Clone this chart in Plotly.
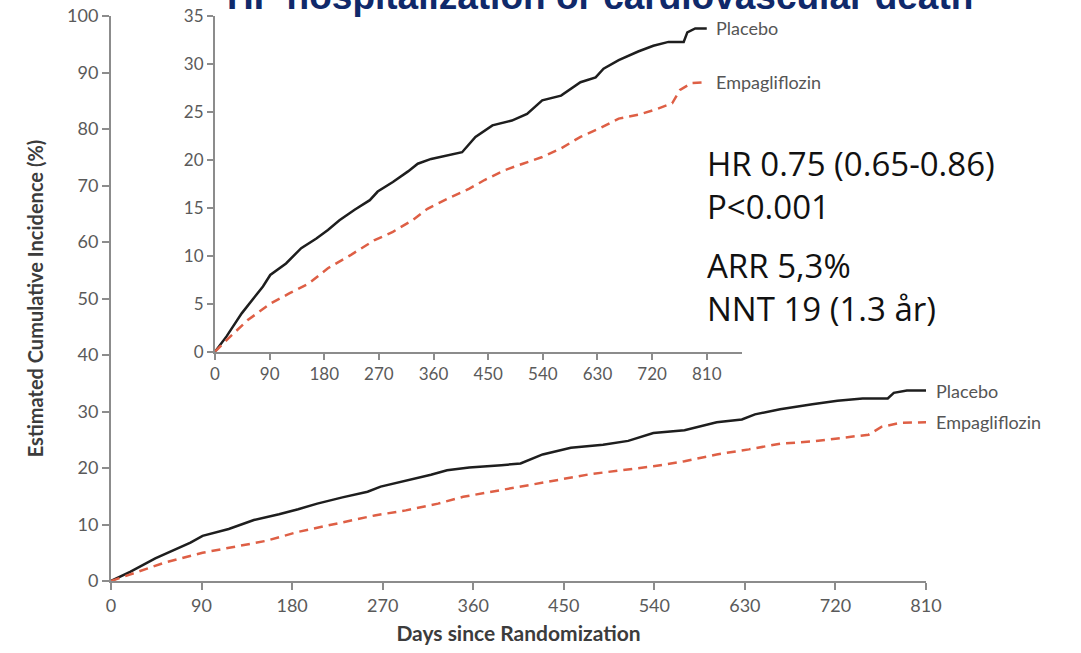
import plotly.graph_objects as go

# ---------------- data ----------------
placebo_days = [0, 19, 44, 66, 79, 91, 117, 142, 167, 186, 205, 230, 255, 268, 293, 318, 334,
                356, 388, 407, 429, 457, 489, 514, 539, 570, 602, 627, 640, 665, 697, 722,
                747, 772, 778, 791, 810]
placebo_pct = [0, 1.6, 4.0, 5.7, 6.8, 8.0, 9.2, 10.8, 11.8, 12.7, 13.7, 14.8, 15.8, 16.7, 17.7,
               18.8, 19.6, 20.1, 20.5, 20.8, 22.4, 23.6, 24.1, 24.8, 26.2, 26.7, 28.1, 28.6,
               29.5, 30.4, 31.3, 31.9, 32.3, 32.3, 33.3, 33.7, 33.7]

empa_days = [0, 22, 54, 91, 123, 154, 186, 224, 262, 293, 325, 350, 388, 419, 444, 476, 507,
             539, 570, 602, 634, 665, 697, 728, 753, 766, 785, 810]
empa_pct = [0, 1.4, 3.3, 5.0, 6.1, 7.1, 8.7, 10.1, 11.6, 12.5, 13.7, 14.9, 16.1, 17.0, 17.9,
            18.9, 19.6, 20.3, 21.2, 22.4, 23.3, 24.3, 24.7, 25.3, 25.9, 27.3, 28.0, 28.1]

series_names = ["Placebo", "Empagliflozin"]
day_ticks = [0, 90, 180, 270, 360, 450, 540, 630, 720, 810]
main_y_ticks = [0, 10, 20, 30, 40, 50, 60, 70, 80, 90, 100]
inset_y_ticks = [0, 5, 10, 15, 20, 25, 30, 35]

title_text = "HF hospitalization or cardiovascular death"
x_title = "Days since Randomization"
y_title = "Estimated Cumulative Incidence (%)"
stats_blocks = [["HR 0.75 (0.65-0.86)", "P<0.001"], ["ARR 5,3%", "NNT 19 (1.3 år)"]]

# ---------------- styles ----------------
PLACEBO_COLOR = "#1e1e1e"
EMPA_COLOR = "#de5f45"
AXIS_COLOR = "#8c8c8c"
TICK_FONT_COLOR = "#5a5a5a"
LABEL_FONT = "Lato, Open Sans, sans-serif"

fig = go.Figure()

for xa, ya in (("x", "y"), ("x2", "y2")):
    fig.add_trace(go.Scatter(x=placebo_days, y=placebo_pct, mode="lines", xaxis=xa, yaxis=ya,
                             line=dict(color=PLACEBO_COLOR, width=2.5), name=series_names[0],
                             showlegend=False, hoverinfo="skip"))
    fig.add_trace(go.Scatter(x=empa_days, y=empa_pct, mode="lines", xaxis=xa, yaxis=ya,
                             line=dict(color=EMPA_COLOR, width=2.5, dash="9px,6px"),
                             name=series_names[1], showlegend=False, hoverinfo="skip"))

axis_common = dict(showgrid=False, zeroline=False, showline=True, linecolor=AXIS_COLOR,
                   linewidth=2, ticks="outside", tickcolor=AXIS_COLOR, tickwidth=2,
                   fixedrange=True, automargin=False)

fig.update_layout(
    template="none",
    width=1081, height=653,
    margin=dict(l=111, r=155, t=16, b=72, autoexpand=False),
    paper_bgcolor="white", plot_bgcolor="white",
    showlegend=False,
    xaxis=dict(**axis_common, range=[0, 810], tickvals=day_ticks, ticklen=7,
               tickfont=dict(family=LABEL_FONT, size=18, color=TICK_FONT_COLOR),
               title=dict(text="<b>" + x_title + "</b>", standoff=12,
                          font=dict(family=LABEL_FONT, size=21, color="#3c3c3c"))),
    yaxis=dict(**axis_common, range=[0, 100], tickvals=main_y_ticks, ticklen=7,
               tickfont=dict(family=LABEL_FONT, size=18, color=TICK_FONT_COLOR),
               title=dict(text="<b>" + y_title + "</b>", standoff=18,
                          font=dict(family=LABEL_FONT, size=20, color="#3c3c3c"))),
    xaxis2=dict(**axis_common, domain=[0.1276, 0.7739], range=[0, 867.6], tickvals=day_ticks,
                ticklen=6, anchor="y2",
                tickfont=dict(family=LABEL_FONT, size=17, color=TICK_FONT_COLOR)),
    yaxis2=dict(**axis_common, domain=[0.4058, 1.0], range=[0, 35], tickvals=inset_y_ticks,
                ticklen=6, anchor="x2",
                tickfont=dict(family=LABEL_FONT, size=17, color=TICK_FONT_COLOR)),
)

annotations = []
# series labels at line ends (inset + main)
for xr, yr, shift in (("x2", "y2", 7), ("x", "y", 8)):
    annotations.append(dict(x=810, y=placebo_pct[-1], xref=xr, yref=yr, text=series_names[0],
                            showarrow=False, xanchor="left", yanchor="middle", xshift=shift,
                            font=dict(family=LABEL_FONT, size=18, color="#555555")))
    annotations.append(dict(x=810, y=empa_pct[-1], xref=xr, yref=yr, text=series_names[1],
                            showarrow=False, xanchor="left", yanchor="middle", xshift=shift,
                            font=dict(family=LABEL_FONT, size=18, color="#555555")))

# statistics text blocks (pixel positions converted below)
stat_y_px = [185, 287]
for lines, ypx in zip(stats_blocks, stat_y_px):
    annotations.append(dict(x=705, y=653 - ypx, xref="paper", yref="paper",
                            text="<br>".join(lines), align="left",
                            showarrow=False, xanchor="left", yanchor="middle",
                            font=dict(family="Open Sans, Noto Sans, sans-serif", size=33,
                                      color="#111111")))

# title (mostly cut off at the top of the picture, as in the reference)
annotations.append(dict(x=600, y=653 - 19, xref="paper", yref="paper", text="<b>" + title_text + "</b>",
                        showarrow=False, xanchor="center", yanchor="bottom",
                        font=dict(family="Liberation Sans, Arial, sans-serif", size=37,
                                  color="#10296a")))

# convert pixel-placed annotations (xref paper) into paper coordinates
plot_l, plot_w = 111, 1081 - 111 - 155
plot_b, plot_h = 72, 653 - 16 - 72
for a in annotations:
    if a["xref"] == "paper":
        a["x"] = (a["x"] - plot_l) / plot_w
        a["y"] = (a["y"] - plot_b) / plot_h

fig.update_layout(annotations=annotations)

fig.write_html("out.html")
